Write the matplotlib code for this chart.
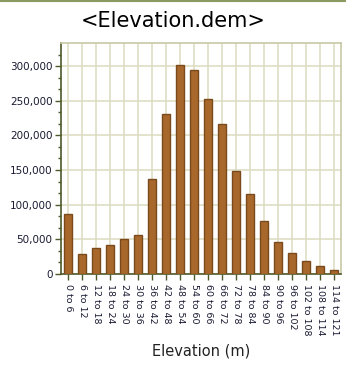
import matplotlib
matplotlib.use("Agg")
import matplotlib.pyplot as plt
from matplotlib.ticker import MultipleLocator, FuncFormatter
from matplotlib.lines import Line2D

categories = ["0 to 6", "6 to 12", "12 to 18", "18 to 24", "24 to 30", "30 to 36",
              "36 to 42", "42 to 48", "48 to 54", "54 to 60", "60 to 66", "66 to 72",
              "72 to 78", "78 to 84", "84 to 90", "90 to 96", "96 to 102",
              "102 to 108", "108 to 114", "114 to 121"]
counts = [86500, 28400, 37000, 41400, 50000, 55800, 136500, 231600, 302000, 295000,
          252000, 217000, 148000, 115000, 77000, 45700, 29800, 18300, 11000, 5800]
title = "<Elevation.dem>"
xlabel = "Elevation (m)"

W, H = 346, 366
fig = plt.figure(figsize=(W / 100, H / 100), dpi=100)
fig.patch.set_facecolor("white")
ax = fig.add_axes([61 / W, 1 - 274 / H, 280 / W, 231 / H])

x = list(range(len(categories)))
ax.bar(x, counts, width=0.62, color="#a8672b", edgecolor="#7a4a1c", linewidth=1.0, zorder=3)

ax.set_xlim(-0.5, len(categories) - 0.5)
ax.set_ylim(0, 333333)
ax.set_xticks(x)
ax.set_xticklabels(categories, rotation=270, fontsize=6.8, color="#1a1a33",
                   family="DejaVu Sans", va="top", ha="center")
ax.yaxis.set_major_locator(MultipleLocator(50000))
ax.yaxis.set_minor_locator(MultipleLocator(50000 / 3))
ax.yaxis.set_major_formatter(FuncFormatter(lambda v, p: f"{int(round(v)):,}"))
for lab in ax.get_yticklabels():
    lab.set_fontsize(7.5)
    lab.set_color("#1a1a33")

ax.grid(True, which="major", color="#dcdcc0", linewidth=1.1, zorder=0)
ax.set_axisbelow(True)

dark = "#4e5a2a"
light = "#c8c8a4"
ax.spines["left"].set_color(dark)
ax.spines["bottom"].set_color(dark)
ax.spines["left"].set_linewidth(1.2)
ax.spines["bottom"].set_linewidth(1.2)
ax.spines["top"].set_color(light)
ax.spines["right"].set_color(light)
ax.spines["top"].set_linewidth(1.2)
ax.spines["right"].set_linewidth(1.2)

ax.tick_params(axis="y", which="major", length=4, width=1, color=dark, pad=2)
ax.tick_params(axis="y", which="minor", length=2, width=1, color=dark)
ax.tick_params(axis="x", which="major", length=4, width=1, color=dark, pad=3)

fig.text(201 / W, 1 - 351 / H, xlabel, fontsize=10.5, ha="center", va="center", color="#222222")
fig.text(0.5, 1 - 21 / H, title, fontsize=15, ha="center", va="center", color="black")

fig.add_artist(Line2D([0, 1], [1 - 0.8 / H, 1 - 0.8 / H], transform=fig.transFigure,
                      color="#8a9a60", linewidth=1.5))

fig.savefig("out.png", dpi=100)
